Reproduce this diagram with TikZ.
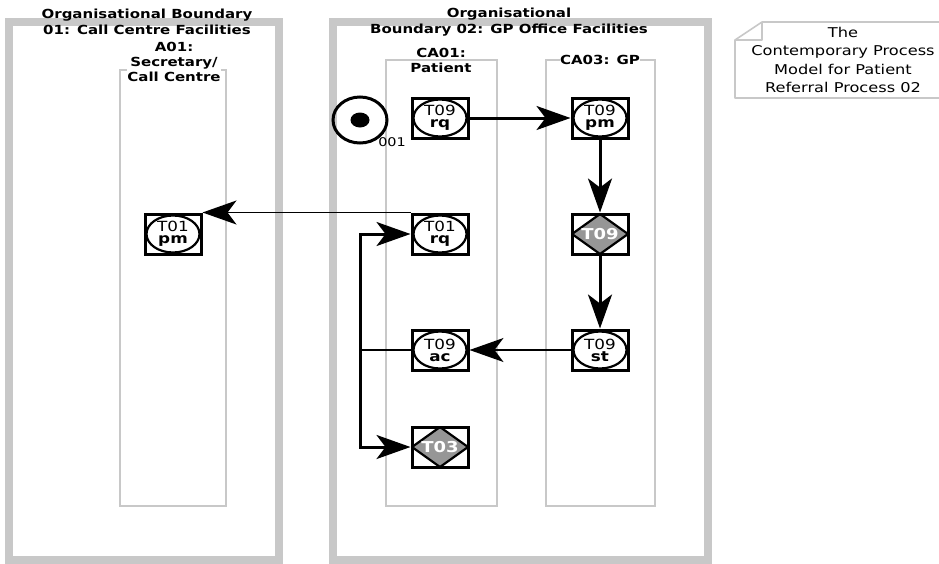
\documentclass[tikz,border=0pt]{standalone}
\usepackage{fontspec}
\setmainfont[FakeStretch=1.2]{DejaVu Sans}
\usepackage{xcolor}
\usetikzlibrary{arrows.meta, shapes.geometric, positioning}

\definecolor{boundgray}{RGB}{200,200,200}
\definecolor{actgray}{RGB}{150,150,150}

\begin{document}
\begin{tikzpicture}[
    x=1pt, y=-1pt,
    >={Stealth[length=34pt, width=24pt, inset=9pt]},
    boundary/.style={draw=boundgray, line width=8pt},
    lane/.style={draw=boundgray, line width=1.6pt},
    tag/.style={font=\bfseries\fontsize{12.5}{15}\selectfont, align=center, inner sep=0pt},
    notebox/.style={draw=boundgray, line width=1.6pt, line join=round},
    notetext/.style={font=\fontsize{13.5}{18.5}\selectfont, align=center, inner sep=0pt},
    act/.style={rectangle, draw, line width=3pt, minimum width=56pt, minimum height=40pt, inner sep=0pt, align=center,
        font=\fontsize{14}{12}\selectfont,
        path picture={\draw[line width=2.2pt, fill=white] (path picture bounding box.center) ellipse (26.5pt and 18.5pt);}},
    decision/.style={rectangle, draw, line width=3pt, minimum width=56pt, minimum height=40pt, inner sep=0pt,
        font=\bfseries\fontsize{15}{10.5}\selectfont, text=white,
        path picture={\draw[line width=2.2pt, fill=actgray] (path picture bounding box.north) -- (path picture bounding box.east)
            -- (path picture bounding box.south) -- (path picture bounding box.west) -- cycle;}},
    startstate/.style={ellipse, draw, line width=3pt, minimum width=54pt, minimum height=46pt, inner sep=0pt},
    startdot/.style={ellipse, fill, minimum width=19pt, minimum height=15pt, inner sep=0pt},
    flow/.style={line width=3pt},
    thinflow/.style={line width=1.5pt}
]
\useasboundingbox (0,0) rectangle (939,563);

% Organisational boundaries
\draw[boundary] (8.5,21.5) rectangle (279,559.5);
\draw[boundary] (332.5,21.5) rectangle (708,559.5);
\node[tag, font=\bfseries\fontsize{12.5}{16.5}\selectfont] (b1title) at (147,22) {Organisational Boundary\\01: Call Centre Facilities};
\node[tag, font=\bfseries\fontsize{12.5}{16.5}\selectfont] (b2title) at (509,22) {Organisational\\Boundary 02: GP Office Facilities};

% Actor lanes
\draw[lane] (120,70) rectangle (226,506);
\draw[lane] (386,60) rectangle (497,506);
\draw[lane] (546,60) rectangle (655,506);
\node[tag, fill=white] (a01title) at (174,62) {A01:\\Secretary/\\Call Centre};
\node[tag] (ca01title) at (441,60) {CA01:\\Patient};
\node[tag, fill=white] (ca03title) at (600,60) {CA03: GP};

% Title note
\draw[notebox] (762,22) -- (945,22) -- (945,98) -- (735,98) -- (735,40) -- cycle;
\draw[notebox] (762,22) -- (762,40) -- (735,40);
\node[notetext] (title) at (843,60) {The\\Contemporary Process\\Model for Patient\\Referral Process 02};

% Start state
\node[startstate] (start) at (360,120) {};
\node[startdot] (startcore) at (start.center) {};
\node[font=\fontsize{12}{13}\selectfont, inner sep=0pt] (startid) at (392,142) {001};

% Transactions
\node[act] (t09rq) at (440,118) {T09\\\textbf{rq}};
\node[act] (t09pm) at (600,118) {T09\\\textbf{pm}};
\node[decision] (t09d) at (600,234) {T09};
\node[act] (t09st) at (600,350) {T09\\\textbf{st}};
\node[act] (t01rq) at (440,234) {T01\\\textbf{rq}};
\node[act] (t09ac) at (440,350) {T09\\\textbf{ac}};
\node[decision] (t03) at (440,447) {T03};
\node[act] (t01pm) at (173,234) {T01\\\textbf{pm}};

% Connections
\draw[flow, ->] (t09rq) -- (t09pm);
\draw[flow, ->] (t09pm) -- (t09d);
\draw[flow, ->] (t09d) -- (t09st);
\draw[thinflow, ->] (t09st) -- (t09ac);
\draw[thinflow, ->] (t01rq.north west) -- (t01pm.north east);

\coordinate (split) at (360,350);
\draw[thinflow] (t09ac) -- (split);
\draw[flow, ->] (split) |- (t01rq);
\draw[flow, ->] (split) |- (t03);

\end{tikzpicture}
\end{document}
